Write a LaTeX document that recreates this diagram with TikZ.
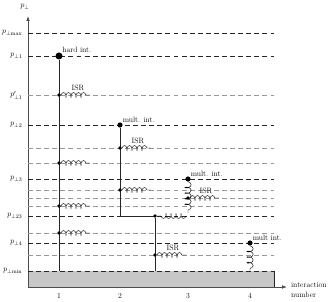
\documentclass[tikz,border=0pt]{standalone}
\usetikzlibrary{arrows.meta,decorations.pathmorphing}

\begin{document}
\begin{tikzpicture}[
    x=0.5mm, y=0.5mm,
    font=\fontsize{11}{13}\selectfont,
    axis/.style={black!70, line width=1.3pt},
    lvl/.style={black!85, line width=0.8pt, dash pattern=on 7pt off 4.5pt},
    sublvl/.style={black!40, line width=0.8pt, dash pattern=on 7pt off 4.5pt},
    strand/.style={black!85, line width=1pt},
    isr/.style={line width=0.6pt, decorate,
                decoration={coil, aspect=0.5, amplitude=1.2mm, segment length=2.5mm}},
    mpi/.style={line width=0.6pt, decorate,
                decoration={coil, aspect=0.5, amplitude=1.6mm, segment length=2.8mm}},
    hardpt/.style={circle, fill=black, minimum size=3.5mm, inner sep=0pt},
    multpt/.style={circle, fill=black, minimum size=2.6mm, inner sep=0pt},
    isrpt/.style={circle, fill=black, minimum size=1.9mm, inner sep=0pt},
    ptlab/.style={anchor=east, inner sep=1pt},
    tag/.style={anchor=south west, inner sep=1pt},
    isrlab/.style={anchor=south, inner sep=1pt},
]
\useasboundingbox (0,0) rectangle (332,302);

% ---- box below p_min and axes ----
\fill[black!22] (28,15) rectangle (274,31);
\draw[black!85, line width=0.8pt] (274,31) -- (274,15);
\draw[axis] (28,15) -- (274,15);
\draw[axis, -{Latex[length=2.5mm]}] (274,15) -- (287,15);
\draw[axis, -{Latex[length=2.5mm]}] (28,15) -- (28,286);
\node (ylab) at (25,295) {$p_\perp$};
\node[anchor=west, align=left, inner sep=0pt] (xlab) at (291,12)
    {interaction\\number};
\foreach \x/\n in {59/1,120/2,188/3,250/4} { \node (tick\n) at (\x,6) {\n}; }

% ---- scale levels ----
\foreach \y in {269,246,177,123,86,59,31} { \draw[lvl] (28,\y) -- (274,\y); }
\foreach \y in {207,154,139,112,104,96,69,47} { \draw[sublvl] (28,\y) -- (274,\y); }

\node[ptlab] (pmax) at (23,269) {$p_{\perp\max}$};
\node[ptlab] (pone) at (23,246) {$p_{\perp1}$};
\node[ptlab] (poneb) at (23,207) {$p'_{\perp1}$};
\node[ptlab] (ptwo) at (23,177) {$p_{\perp2}$};
\node[ptlab] (pthree) at (23,123) {$p_{\perp3}$};
\node[ptlab] (ptt) at (23,86) {$p_{\perp23}$};
\node[ptlab] (pfour) at (23,59) {$p_{\perp4}$};
\node[ptlab] (pmin) at (23,31) {$p_{\perp\min}$};

% ---- interactions ----
\node[hardpt] (hard) at (59,246) {};
\coordinate (bot1) at (59,31);
\draw[strand] (hard) -- (bot1);

\node[multpt] (mi2) at (120,177) {};
\node[isrpt] (join) at (155,86) {};
\coordinate (bend2) at (120,86);
\coordinate (bot2) at (155,31);
\draw[strand] (mi2) -- (bend2) -- (join) -- (bot2);

\node[multpt] (mi3) at (188,123) {};
\coordinate (turn3) at (188,89);
\coordinate (corner3) at (186,86);
\draw[mpi] (mi3.south) -- (turn3);
\draw[isr] (corner3) -- (join.east);

\node[multpt] (mi4) at (250,59) {};
\coordinate (bot4) at (250,31);
\draw[mpi] (mi4.south) -- (bot4);

\node[tag] (hardtxt) at (hard.north east) {hard int.};
\node[tag] (mtxt2) at (mi2.north east) {mult. int.};
\node[tag] (mtxt3) at (mi3.north east) {mult. int.};
\node[tag] (mtxt4) at (mi4.north east) {mult int.};

% ---- initial-state radiation ----
\foreach \x/\y [count=\i] in {59/207,59/139,59/96,59/69,120/154,120/112,188/104,155/47} {
    \node[isrpt] (isr\i) at (\x,\y) {};
    \coordinate (isrend\i) at ({\x+31},\y);
    \draw[isr] (isr\i.east) -- (isrend\i);
}
\node[isrlab] (isrtxt1) at (78,210) {ISR};
\node[isrlab] (isrtxt5) at (138,157) {ISR};
\node[isrlab] (isrtxt7) at (206,107) {ISR};
\node[isrlab] (isrtxt8) at (173,50) {ISR};
\end{tikzpicture}
\end{document}
